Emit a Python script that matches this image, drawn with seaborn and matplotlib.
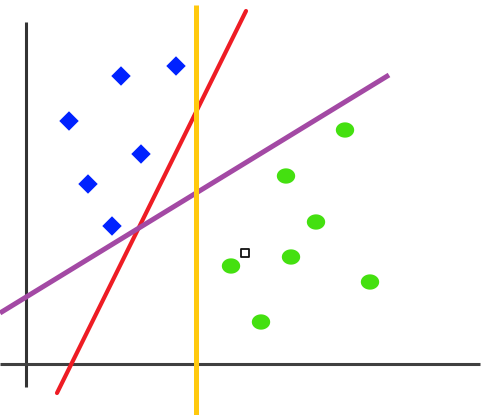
import numpy as np
import pandas as pd
import matplotlib
matplotlib.use("Agg")
import matplotlib.pyplot as plt
import seaborn as sns

sns.set_theme(style="white")

# class A (blue diamonds) and class B (green dots)
blue_x = [95, 150, 43, 115, 62, 86]
blue_y = [288, 298, 243, 210, 180, 138]
green_x = [319, 260, 290, 205, 265, 344, 235]
green_y = [234, 188, 142, 98, 107, 82, 42]
# new point to classify
query_x = [219]
query_y = [111]

# hand drawn axes
xaxis_x = [-26, 454]
xaxis_y = [0, 0]
yaxis_x = [0, 0]
yaxis_y = [-23, 342]

# candidate separating lines
yellow_x = [170, 170]
yellow_y = [-51, 359]
red_x = [31, 220]
red_y = [-29, 353]
purple_x = [-26, 363]
purple_y = [51, 289]

blue = pd.DataFrame({"x": blue_x, "y": blue_y})
green = pd.DataFrame({"x": green_x, "y": green_y})

fig = plt.figure(figsize=(4.84, 4.15), dpi=100)
ax = fig.add_axes([0, 0, 1, 1])

ax.plot(yaxis_x, yaxis_y, color="#333333", lw=2.2, solid_capstyle="butt", zorder=1)
ax.plot(xaxis_x, xaxis_y, color="#404040", lw=2.2, solid_capstyle="butt", zorder=1)

t = np.linspace(0, 2 * np.pi, 40)
ellipse = list(zip(np.cos(t) * 1.2, np.sin(t)))

sns.scatterplot(data=blue, x="x", y="y", marker="D", s=98, color="#0022ff",
                edgecolor="none", ax=ax, zorder=3)
sns.scatterplot(data=green, x="x", y="y", marker=ellipse, s=175, color="#44e010",
                edgecolor="none", ax=ax, zorder=3)
ax.scatter(query_x, query_y, marker="s", s=38, facecolor="white",
           edgecolor="#111111", linewidth=1.3, zorder=3)

ax.plot(red_x, red_y, color="#ee1c24", lw=3.0, solid_capstyle="round", zorder=2)
ax.plot(purple_x, purple_y, color="#a349a4", lw=3.6, solid_capstyle="butt", zorder=2)
ax.plot(yellow_x, yellow_y, color="#ffc90e", lw=3.6, solid_capstyle="butt", zorder=2)

ax.set_xlim(-26, 458)
ax.set_ylim(-51, 364)
ax.axis("off")

fig.savefig("out.png", dpi=100, facecolor="white")
